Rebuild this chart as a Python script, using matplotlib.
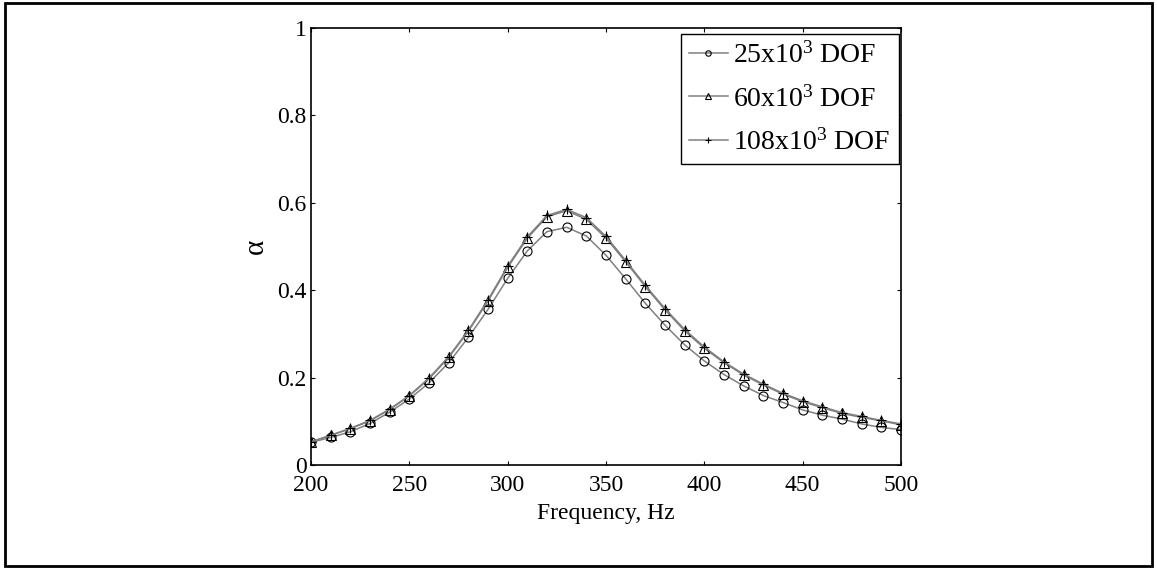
import matplotlib
matplotlib.use("Agg")
import matplotlib.pyplot as plt
from matplotlib.patches import Rectangle

plt.rcParams['font.family'] = ['Liberation Serif', 'DejaVu Serif']
plt.rcParams['mathtext.fontset'] = 'custom'
plt.rcParams['mathtext.rm'] = 'Liberation Serif'
plt.rcParams['mathtext.it'] = 'Liberation Serif'

freq = [200, 210, 220, 230, 240, 250, 260, 270, 280, 290, 300, 310, 320, 330, 340, 350,
        360, 370, 380, 390, 400, 410, 420, 430, 440, 450, 460, 470, 480, 490, 500]

# 25x10^3 DOF (circles)
alpha_25k = [0.052, 0.063, 0.076, 0.095, 0.121, 0.151, 0.188, 0.234, 0.292, 0.356, 0.427,
             0.490, 0.534, 0.544, 0.524, 0.480, 0.426, 0.370, 0.320, 0.275, 0.238,
             0.207, 0.181, 0.159, 0.143, 0.126, 0.114, 0.105, 0.094, 0.086, 0.081]

# 60x10^3 DOF (triangles)
alpha_60k = [0.053, 0.068, 0.083, 0.101, 0.127, 0.158, 0.197, 0.246, 0.306, 0.375, 0.452,
             0.519, 0.568, 0.582, 0.562, 0.519, 0.465, 0.408, 0.355, 0.307, 0.267,
             0.234, 0.206, 0.183, 0.162, 0.145, 0.131, 0.118, 0.109, 0.101, 0.092]

# 108x10^3 DOF (plus)
alpha_108k = [0.053, 0.068, 0.084, 0.102, 0.128, 0.159, 0.199, 0.248, 0.308, 0.378, 0.455,
              0.522, 0.571, 0.585, 0.566, 0.523, 0.468, 0.411, 0.358, 0.310, 0.270,
              0.236, 0.208, 0.185, 0.164, 0.147, 0.133, 0.120, 0.111, 0.102, 0.094]

labels = [r'25x10$^{3}$ DOF', r'60x10$^{3}$ DOF', r'108x10$^{3}$ DOF']

fig = plt.figure(figsize=(11.57, 5.68), dpi=100)
ax = fig.add_axes([311 / 1157, 1 - 465 / 568, 590 / 1157, 437 / 568])

line_kw = dict(color='#808080', lw=1.1, markeredgecolor='black', markerfacecolor='none',
               markeredgewidth=0.8, markersize=6.5)
ax.plot(freq, alpha_25k, marker='o', label=labels[0], **line_kw)
ax.plot(freq, alpha_60k, marker='^', label=labels[1], **line_kw)
ax.plot(freq, alpha_108k, marker='+', label=labels[2], **line_kw)

ax.set_xlim(200, 500)
ax.set_ylim(0, 1)
ax.set_xticks([200, 250, 300, 350, 400, 450, 500])
ax.set_yticks([0, 0.2, 0.4, 0.6, 0.8, 1])
ax.set_yticklabels(['0', '0.2', '0.4', '0.6', '0.8', '1'])
ax.tick_params(direction='in', length=3, width=0.8, labelsize=17, top=True, right=True)
ax.tick_params(axis='x', pad=7)
ax.tick_params(axis='y', pad=3)
for s in ax.spines.values():
    s.set_linewidth(1.2)

ax.set_xlabel('Frequency, Hz', fontsize=17, labelpad=5)
ax.set_ylabel('α', fontsize=21, labelpad=6)

leg = ax.legend(loc='upper right', bbox_to_anchor=(0.9966, 0.986), fontsize=20,
                handlelength=1.4, handletextpad=0.2, borderpad=0.3, labelspacing=0.6,
                borderaxespad=0, markerscale=0.6, fancybox=False, framealpha=1)
leg.get_frame().set_edgecolor('black')
leg.get_frame().set_linewidth(1.0)

fig.patches.append(Rectangle((5 / 1157, 2 / 568), 1147 / 1157, 563 / 568,
                             transform=fig.transFigure, fill=False, lw=2, edgecolor='black'))

fig.savefig('out.png', dpi=100)
